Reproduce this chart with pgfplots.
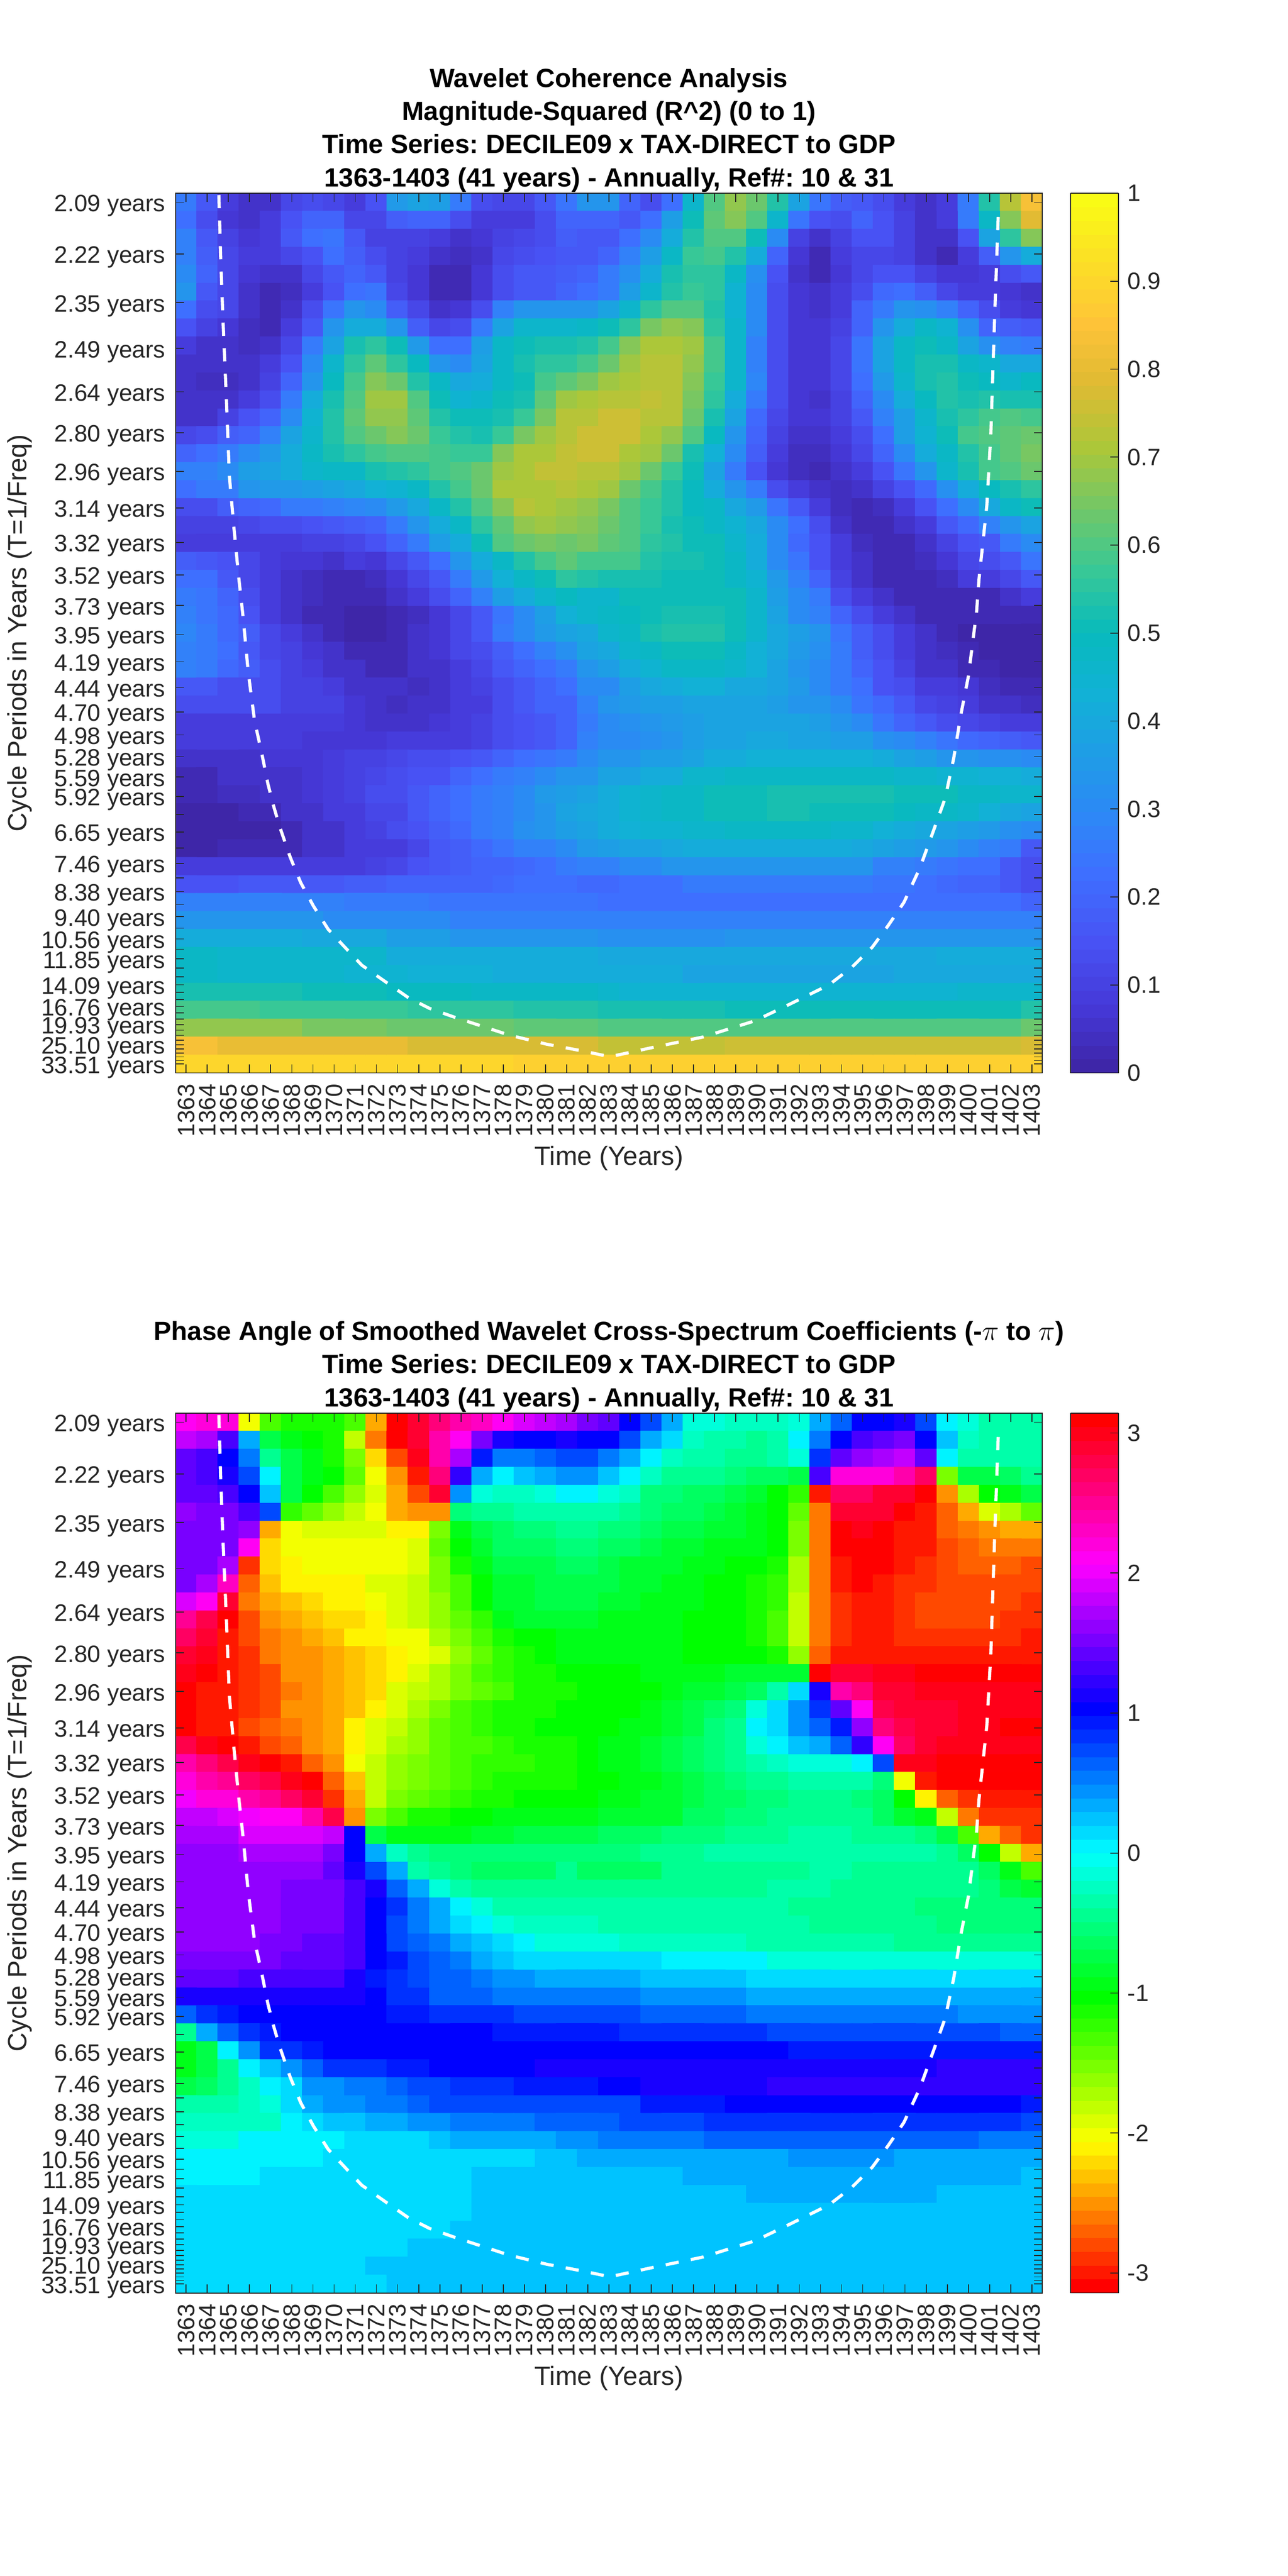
\documentclass[border=0pt]{standalone}
\usepackage{pgfplots}
\usepackage{fontspec}
\setmainfont{Liberation Sans}
\pgfplotsset{compat=1.18}
\frenchspacing
\definecolor{ink}{rgb}{0.15,0.15,0.15}
\pgfplotsset{
 colormap={parsrc}{rgb(0pt)=(0.2422,0.1504,0.6603) rgb(63pt)=(0.2706,0.2147,0.8364) rgb(143pt)=(0.2810,0.3228,0.9579) rgb(222pt)=(0.2440,0.4358,0.9988) rgb(286pt)=(0.1786,0.5289,0.9682) rgb(429pt)=(0.0689,0.6948,0.8394) rgb(500pt)=(0.03,0.73,0.74) rgb(571pt)=(0.2161,0.7843,0.5923) rgb(714pt)=(0.6720,0.7793,0.2227) rgb(790pt)=(0.88,0.73,0.2) rgb(857pt)=(0.9970,0.7659,0.2199) rgb(1000pt)=(0.9769,0.9839,0.0805)},
 colormap={par64}{samples of colormap=(64 of parsrc)},
 colormap={hsvsrc}{rgb(0pt)=(1,0,0) rgb(1pt)=(1,1,0) rgb(2pt)=(0,1,0) rgb(3pt)=(0,1,1) rgb(4pt)=(0,0,1) rgb(5pt)=(1,0,1) rgb(6pt)=(1,0,0)},
 colormap={hsv64}{samples of colormap=(64 of hsvsrc)},
 wave/.style={
  scale only axis, width=526pt, height=533.75pt, anchor=south west,
  xmin=1362.5, xmax=1403.5, ymin=-0.5, ymax=48.5, y dir=reverse,
  axis on top, tick align=inside, major tick length=5.25pt,
  tick style={draw=ink,line width=0.55pt}, axis line style={draw=ink,line width=0.6pt},
  colormap access=piecewise constant,
  xtick={1363,1364,1365,1366,1367,1368,1369,1370,1371,1372,1373,1374,1375,1376,1377,1378,1379,1380,1381,1382,1383,1384,1385,1386,1387,1388,1389,1390,1391,1392,1393,1394,1395,1396,1397,1398,1399,1400,1401,1402,1403},
  xticklabels={1363,1364,1365,1366,1367,1368,1369,1370,1371,1372,1373,1374,1375,1376,1377,1378,1379,1380,1381,1382,1383,1384,1385,1386,1387,1388,1389,1390,1391,1392,1393,1394,1395,1396,1397,1398,1399,1400,1401,1402,1403},
  ytick={0,2.874,5.586,8.146,10.563,12.844,14.996,17.028,18.946,20.756,22.465,24.078,25.6,27.037,28.393,29.673,30.881,32.022,33.098,34.114,35.073,35.978,36.833,37.639,38.4,39.118,39.797,40.437,41.04,41.611,42.149,42.657,43.137,43.589,44.016,44.42,44.8,45.159,45.498,45.818,46.12,46.406,46.675,46.928,47.168,47.394,47.608,47.81,48},
  yticklabels={2.09 years,2.22 years,2.35 years,2.49 years,2.64 years,2.80 years,2.96 years,3.14 years,3.32 years,3.52 years,3.73 years,3.95 years,4.19 years,4.44 years,4.70 years,4.98 years,5.28 years,5.59 years,5.92 years,{},6.65 years,{},7.46 years,{},8.38 years,{},9.40 years,{},10.56 years,{},11.85 years,{},{},14.09 years,{},{},16.76 years,{},{},19.93 years,{},{},{},25.10 years,{},{},{},{},33.51 years},
  ticklabel style={font=\fontsize{14.4}{14.4}\selectfont,text=ink},
  xticklabel style={yshift=-6.5pt,rotate=90,anchor=east,inner sep=0pt},
  yticklabel style={anchor=east,inner sep=0pt,xshift=-6pt,yshift=-2pt,text height=0.72em,text depth=0pt},
  xlabel={Time (Years)}, ylabel={Cycle Periods in Years (T=1/Freq)},
  every axis x label/.style={at={(axis description cs:0.5,0)},anchor=center,yshift=-51.75pt,font=\fontsize{16}{16}\selectfont,text=ink},
  every axis y label/.style={at={(axis description cs:0,0.5)},anchor=center,xshift=-94.5pt,rotate=90,font=\fontsize{16}{16}\selectfont,text=ink},
  title style={font=\bfseries\fontsize{16}{20.1}\selectfont,align=center,at={(axis description cs:0.5,1)},anchor=south,inner sep=0pt,yshift=-5.5pt},
 },
 wcb/.style={
  colorbar sampled,
  colorbar style={samples=65,at={(parent axis.north east)},anchor=north west,xshift=8.5pt,width=29pt,height=533.75pt,
   ytick pos=right,yticklabel pos=right,tick align=inside,major tick length=5pt,
   tick style={draw=ink,line width=0.55pt},axis line style={draw=ink,line width=0.6pt},
   yticklabel style={font=\fontsize{14.4}{14.4}\selectfont,text=ink,inner sep=0pt,xshift=5.5pt,anchor=west},
   #1},
 },
 coi/.style={white,line width=1.9pt,dash pattern=on 8pt off 7.5pt},
}
\begin{document}
\begin{tikzpicture}
\useasboundingbox (0,0) rectangle (781.25pt,1563pt);
\begin{axis}[wave,at={(106.5pt,912pt)},
 title={Wavelet Coherence Analysis\\Magnitude-Squared (R\textasciicircum 2) (0 to 1)\\Time Series: DECILE09 x TAX-DIRECT to GDP\\1363-1403 (41 years) - Annually, Ref\#: 10 \& 31},
 colormap name=par64, point meta min=0, point meta max=1,
 wcb={ytick={0,0.1,0.2,0.3,0.4,0.5,0.6,0.7,0.8,0.9,1},yticklabels={0,0.1,0.2,0.3,0.4,0.5,0.6,0.7,0.8,0.9,1}}]
\addplot[matrix plot*,mesh/cols=41,point meta=explicit] table[header=false,row sep=crcr,x expr={1363+mod(\coordindex,41)},y expr={floor((\coordindex+0.5)/41)},meta expr={\thisrowno{0}/100}] {
26\\17\\8\\5\\6\\12\\14\\11\\8\\15\\35\\38\\36\\26\\14\\11\\11\\16\\24\\33\\33\\19\\14\\22\\46\\60\\68\\64\\54\\38\\24\\18\\17\\14\\8\\5\\9\\25\\54\\73\\84\\
22\\13\\7\\5\\8\\15\\20\\19\\11\\11\\18\\20\\19\\13\\8\\8\\8\\13\\20\\20\\20\\17\\22\\36\\50\\61\\66\\60\\46\\24\\15\\14\\19\\15\\10\\5\\9\\25\\48\\66\\79\\
28\\16\\10\\7\\8\\16\\22\\24\\16\\10\\10\\10\\8\\6\\7\\10\\11\\13\\18\\17\\17\\22\\30\\42\\54\\60\\60\\50\\30\\10\\6\\10\\15\\15\\10\\5\\6\\15\\38\\56\\66\\
27\\18\\11\\8\\8\\11\\15\\22\\18\\13\\10\\8\\5\\4\\6\\11\\13\\15\\17\\17\\20\\28\\36\\47\\57\\58\\54\\42\\19\\7\\3\\8\\12\\12\\10\\6\\3\\8\\18\\33\\42\\
30\\19\\11\\7\\5\\5\\11\\17\\20\\16\\10\\7\\3\\3\\7\\13\\16\\17\\18\\20\\25\\32\\42\\52\\56\\56\\48\\32\\15\\6\\2\\7\\12\\15\\15\\10\\7\\7\\8\\14\\17\\
33\\17\\11\\6\\3\\4\\9\\15\\22\\24\\12\\7\\3\\3\\7\\13\\17\\17\\19\\23\\26\\36\\46\\54\\57\\55\\44\\30\\14\\7\\6\\9\\14\\21\\22\\18\\12\\9\\8\\7\\6\\
22\\14\\11\\6\\3\\5\\13\\24\\33\\30\\18\\11\\5\\7\\14\\27\\33\\33\\33\\33\\38\\46\\56\\60\\60\\54\\44\\30\\14\\7\\6\\9\\19\\26\\33\\32\\28\\19\\14\\9\\7\\
15\\10\\7\\4\\3\\8\\17\\33\\42\\42\\33\\18\\11\\14\\26\\39\\46\\46\\46\\47\\50\\55\\65\\68\\66\\56\\46\\30\\14\\7\\7\\10\\20\\33\\41\\47\\45\\32\\20\\18\\16\\
8\\6\\5\\4\\6\\12\\25\\38\\53\\55\\50\\35\\23\\23\\36\\48\\50\\52\\52\\54\\58\\66\\71\\71\\69\\58\\46\\28\\13\\7\\7\\11\\24\\38\\47\\50\\47\\39\\32\\28\\26\\
6\\5\\5\\5\\9\\15\\31\\46\\56\\62\\56\\49\\34\\31\\38\\47\\52\\55\\55\\59\\64\\70\\72\\72\\68\\58\\46\\28\\13\\7\\7\\11\\24\\38\\47\\52\\52\\48\\46\\40\\40\\
5\\4\\4\\6\\10\\19\\33\\49\\59\\67\\64\\54\\47\\40\\42\\47\\51\\58\\62\\65\\70\\71\\73\\72\\67\\57\\46\\29\\14\\7\\7\\11\\22\\35\\46\\52\\54\\51\\49\\46\\49\\
5\\5\\5\\8\\14\\26\\41\\52\\60\\69\\69\\60\\50\\44\\46\\50\\53\\62\\69\\71\\72\\73\\74\\72\\65\\55\\42\\25\\13\\7\\6\\10\\19\\30\\41\\49\\54\\53\\54\\53\\53\\
6\\6\\10\\15\\20\\31\\44\\54\\62\\68\\68\\62\\54\\50\\50\\52\\57\\65\\72\\73\\75\\75\\73\\72\\64\\52\\38\\21\\12\\7\\7\\10\\17\\27\\37\\46\\53\\56\\58\\60\\59\\
11\\14\\18\\20\\28\\38\\46\\54\\60\\64\\66\\63\\57\\54\\52\\57\\65\\69\\73\\75\\75\\75\\71\\68\\60\\49\\33\\19\\10\\5\\5\\8\\14\\23\\36\\44\\51\\58\\60\\62\\64\\
20\\22\\25\\31\\35\\41\\47\\53\\56\\58\\60\\60\\59\\57\\57\\66\\71\\71\\74\\75\\75\\71\\70\\63\\53\\43\\30\\18\\9\\4\\4\\7\\12\\19\\30\\41\\47\\54\\59\\62\\65\\
27\\28\\30\\36\\38\\42\\46\\47\\48\\52\\54\\55\\58\\60\\63\\70\\71\\74\\74\\73\\72\\69\\64\\57\\50\\38\\26\\15\\7\\4\\3\\5\\9\\15\\24\\34\\46\\53\\58\\60\\64\\
22\\26\\26\\33\\35\\35\\37\\39\\40\\43\\45\\48\\54\\58\\63\\71\\71\\71\\72\\71\\69\\63\\58\\54\\49\\41\\33\\26\\14\\8\\5\\4\\6\\10\\15\\21\\32\\42\\49\\53\\55\\
13\\14\\18\\20\\21\\25\\26\\28\\29\\30\\35\\40\\47\\54\\60\\67\\72\\71\\69\\68\\65\\60\\57\\54\\49\\47\\40\\35\\24\\17\\8\\4\\3\\4\\8\\15\\22\\31\\40\\47\\50\\
10\\10\\10\\11\\13\\13\\15\\16\\18\\20\\26\\33\\41\\48\\56\\62\\68\\70\\68\\66\\63\\60\\57\\53\\50\\47\\45\\40\\31\\22\\13\\6\\3\\3\\6\\9\\16\\21\\28\\34\\38\\
8\\8\\8\\9\\9\\9\\10\\10\\11\\15\\19\\26\\36\\42\\50\\60\\64\\65\\64\\65\\62\\60\\56\\54\\51\\50\\46\\41\\30\\21\\15\\8\\4\\3\\3\\5\\10\\15\\17\\26\\31\\
18\\16\\15\\12\\9\\7\\7\\6\\8\\7\\12\\16\\23\\33\\41\\47\\54\\58\\61\\58\\58\\58\\54\\52\\52\\50\\47\\41\\31\\24\\15\\8\\5\\3\\3\\4\\7\\11\\13\\16\\24\\
22\\22\\17\\12\\9\\6\\4\\3\\3\\4\\7\\11\\17\\26\\35\\43\\47\\50\\56\\54\\53\\53\\52\\51\\51\\50\\47\\45\\35\\28\\20\\10\\6\\3\\3\\3\\4\\8\\8\\12\\16\\
25\\24\\20\\13\\9\\6\\4\\3\\2\\3\\5\\8\\13\\20\\28\\36\\41\\46\\49\\46\\46\\50\\50\\50\\50\\50\\50\\46\\36\\30\\26\\14\\9\\6\\3\\2\\2\\3\\3\\6\\9\\
28\\24\\21\\15\\9\\5\\3\\2\\1\\1\\2\\4\\7\\11\\16\\24\\30\\36\\43\\46\\47\\49\\51\\52\\52\\52\\51\\46\\38\\30\\27\\19\\13\\9\\5\\3\\2\\2\\2\\2\\3\\
29\\25\\21\\18\\12\\8\\6\\3\\1\\1\\3\\6\\7\\12\\16\\26\\30\\35\\38\\40\\46\\47\\52\\54\\54\\54\\50\\46\\40\\36\\33\\24\\18\\14\\8\\5\\3\\1\\1\\1\\1\\
28\\26\\22\\17\\12\\10\\7\\5\\3\\3\\3\\5\\7\\11\\14\\18\\23\\28\\32\\38\\40\\46\\47\\50\\50\\50\\47\\43\\40\\35\\32\\26\\18\\14\\8\\6\\4\\2\\1\\1\\0\\
28\\26\\21\\18\\14\\10\\8\\6\\5\\3\\3\\5\\6\\9\\12\\16\\19\\23\\26\\34\\36\\41\\45\\47\\47\\47\\46\\43\\38\\34\\31\\26\\19\\15\\10\\6\\6\\3\\2\\1\\0\\
17\\16\\13\\14\\14\\10\\10\\8\\6\\5\\5\\4\\6\\8\\10\\13\\16\\19\\22\\30\\31\\37\\40\\41\\43\\43\\40\\40\\38\\35\\31\\26\\22\\15\\13\\9\\9\\7\\4\\2\\2\\
14\\14\\13\\14\\14\\10\\10\\10\\7\\6\\4\\5\\5\\8\\9\\13\\16\\19\\20\\27\\33\\35\\36\\37\\38\\39\\38\\38\\36\\34\\33\\30\\24\\21\\17\\12\\10\\8\\6\\5\\4\\
9\\9\\9\\9\\9\\9\\9\\8\\7\\5\\5\\6\\7\\9\\10\\13\\15\\17\\19\\26\\30\\32\\34\\35\\37\\38\\38\\38\\38\\38\\36\\33\\30\\24\\20\\16\\13\\12\\10\\9\\8\\
8\\8\\8\\8\\8\\8\\7\\7\\7\\7\\8\\8\\9\\9\\10\\13\\15\\17\\19\\27\\30\\30\\32\\33\\36\\38\\39\\40\\40\\39\\38\\36\\36\\32\\30\\28\\24\\21\\20\\18\\16\\
5\\6\\6\\6\\7\\7\\7\\8\\10\\10\\11\\13\\14\\15\\16\\20\\22\\24\\25\\30\\33\\33\\36\\37\\39\\41\\42\\43\\43\\43\\43\\43\\43\\41\\39\\37\\33\\33\\32\\32\\30\\
3\\3\\5\\5\\6\\6\\7\\8\\10\\11\\13\\15\\15\\20\\22\\25\\27\\30\\33\\33\\38\\39\\41\\41\\46\\46\\47\\47\\47\\47\\47\\47\\47\\47\\46\\46\\45\\45\\43\\43\\42\\
2\\2\\4\\4\\5\\6\\7\\9\\10\\14\\13\\17\\19\\22\\25\\28\\31\\35\\37\\39\\42\\44\\46\\47\\48\\50\\50\\50\\53\\53\\53\\53\\53\\53\\50\\50\\50\\48\\48\\46\\46\\
1\\1\\1\\2\\3\\5\\6\\8\\9\\11\\12\\17\\19\\22\\26\\28\\31\\34\\38\\40\\42\\44\\46\\47\\47\\50\\50\\50\\53\\53\\50\\50\\50\\50\\49\\47\\48\\46\\43\\40\\38\\
1\\1\\1\\1\\1\\2\\5\\6\\8\\10\\13\\15\\18\\21\\25\\28\\32\\34\\36\\39\\41\\43\\44\\44\\46\\46\\47\\47\\47\\47\\47\\46\\46\\43\\41\\40\\38\\37\\35\\32\\30\\
1\\1\\2\\2\\2\\3\\5\\5\\8\\8\\9\\12\\16\\18\\21\\24\\27\\28\\30\\35\\36\\38\\38\\40\\41\\41\\41\\41\\41\\41\\41\\41\\40\\38\\37\\35\\33\\30\\28\\25\\17\\
8\\8\\8\\8\\8\\8\\8\\8\\9\\10\\12\\15\\16\\18\\19\\20\\21\\23\\25\\27\\28\\30\\30\\33\\33\\33\\33\\33\\33\\33\\33\\33\\33\\28\\28\\25\\24\\23\\23\\17\\13\\
15\\15\\15\\16\\16\\17\\17\\17\\18\\18\\19\\19\\19\\20\\20\\21\\22\\23\\23\\21\\21\\22\\22\\23\\26\\26\\26\\26\\26\\26\\26\\26\\25\\24\\24\\22\\21\\20\\20\\17\\14\\
27\\27\\27\\27\\27\\27\\27\\27\\26\\26\\26\\26\\24\\24\\24\\24\\24\\24\\24\\24\\23\\23\\23\\23\\23\\23\\23\\23\\23\\23\\23\\23\\23\\23\\23\\23\\22\\22\\22\\22\\19\\
34\\34\\34\\34\\34\\34\\34\\30\\30\\30\\30\\30\\30\\28\\28\\28\\28\\28\\28\\28\\27\\27\\27\\27\\27\\27\\27\\27\\27\\27\\27\\27\\27\\27\\27\\27\\27\\27\\27\\27\\27\\
41\\41\\41\\41\\41\\41\\40\\40\\40\\40\\37\\37\\37\\33\\33\\33\\33\\33\\33\\33\\32\\32\\32\\32\\32\\32\\33\\33\\33\\33\\33\\33\\33\\33\\33\\33\\33\\33\\33\\33\\33\\
47\\47\\46\\46\\46\\46\\46\\46\\46\\46\\42\\42\\42\\42\\42\\42\\41\\41\\41\\41\\40\\40\\40\\40\\40\\40\\40\\40\\40\\40\\40\\40\\40\\40\\40\\40\\41\\41\\41\\41\\41\\
48\\48\\46\\46\\46\\46\\46\\46\\45\\45\\45\\43\\43\\43\\43\\41\\41\\41\\41\\41\\41\\41\\41\\41\\39\\39\\39\\39\\39\\39\\39\\39\\39\\39\\40\\40\\40\\40\\40\\40\\40\\
53\\53\\53\\52\\52\\52\\50\\50\\50\\50\\49\\49\\49\\49\\47\\47\\47\\47\\47\\47\\46\\44\\44\\44\\44\\44\\44\\44\\44\\44\\44\\44\\44\\44\\44\\44\\44\\46\\46\\46\\46\\
59\\59\\59\\59\\57\\57\\57\\57\\57\\57\\57\\55\\55\\55\\55\\55\\54\\54\\54\\54\\52\\52\\52\\52\\52\\52\\50\\50\\50\\50\\50\\50\\50\\50\\51\\51\\51\\51\\51\\51\\54\\
68\\68\\68\\68\\68\\68\\65\\65\\65\\65\\63\\63\\63\\63\\63\\63\\62\\62\\62\\62\\60\\60\\60\\60\\60\\60\\60\\60\\60\\60\\60\\60\\60\\60\\60\\60\\60\\60\\60\\60\\63\\
84\\83\\81\\81\\81\\80\\80\\80\\80\\80\\80\\78\\78\\78\\78\\77\\77\\77\\77\\77\\74\\74\\74\\74\\74\\74\\75\\75\\75\\75\\75\\75\\75\\75\\75\\75\\75\\75\\75\\75\\78\\
90\\90\\90\\90\\90\\90\\90\\90\\90\\90\\90\\90\\90\\90\\90\\90\\88\\88\\88\\88\\88\\88\\88\\88\\88\\88\\88\\88\\88\\88\\88\\88\\88\\88\\88\\88\\88\\88\\88\\88\\88\\
};
\addplot[coi] coordinates {(1364.55,-0.4)(1364.63,2.9)(1364.75,6.7)(1364.89,10.5)(1365.05,15.3)(1365.26,18.1)(1365.48,20.8)(1365.7,23.15)(1365.94,26.2)(1366.24,28.9)(1366.58,30.7)(1366.87,32.4)(1367.13,33.6)(1367.43,34.8)(1367.93,36.5)(1368.42,37.9)(1369.02,39.2)(1369.72,40.5)(1370.51,41.5)(1371.31,42.5)(1372.4,43.4)(1373.5,44.3)(1374.5,44.9)(1375.7,45.4)(1377,45.9)(1378.3,46.4)(1380.05,46.9)(1381.85,47.3)(1383.04,47.6)(1385,47.1)(1387.45,46.5)(1389.9,45.6)(1391.5,44.7)(1393.4,43.6)(1394.5,42.6)(1395.45,41.5)(1396.2,40.3)(1396.95,39)(1397.7,37.1)(1398.35,35)(1398.9,33.2)(1399.3,31)(1399.65,28.5)(1400,26.4)(1400.3,23.6)(1400.38,22.9)(1400.5,21)(1400.87,16.9)(1401.06,12.9)(1401.24,6.4)(1401.43,0.15)};
\end{axis}
\begin{axis}[wave,at={(106.5pt,171.75pt)},
 title={Phase Angle of Smoothed Wavelet Cross-Spectrum Coefficients (-$\pi$ to $\pi$)\\Time Series: DECILE09 x TAX-DIRECT to GDP\\1363-1403 (41 years) - Annually, Ref\#: 10 \& 31},
 colormap name=hsv64, point meta min=-3.14159, point meta max=3.14159,
 wcb={ytick={-3,-2,-1,0,1,2,3},yticklabels={-3,-2,-1,0,1,2,3}}]
\addplot[matrix plot*,mesh/cols=41,point meta=explicit] table[header=false,row sep=crcr,x expr={1363+mod(\coordindex,41)},y expr={floor((\coordindex+0.5)/41)},meta expr={\thisrowno{0}/10}] {
21\\22\\22\\-20\\-13\\-11\\-11\\-11\\-13\\-24\\-31\\29\\26\\24\\23\\21\\19\\18\\17\\15\\14\\10\\7\\3\\-1\\-1\\-2\\-2\\-2\\-1\\3\\6\\10\\10\\11\\7\\0\\-1\\-3\\-3\\-3\\
18\\17\\13\\3\\-7\\-9\\-10\\-11\\-18\\-26\\31\\29\\24\\21\\15\\11\\10\\10\\11\\10\\10\\7\\3\\1\\-2\\-3\\-3\\-4\\-3\\0\\5\\10\\13\\14\\15\\10\\2\\-2\\-3\\-3\\-3\\
14\\13\\10\\5\\-4\\-7\\-9\\-11\\-15\\-22\\-28\\30\\24\\17\\9\\5\\5\\6\\7\\7\\5\\3\\0\\-2\\-3\\-3\\-4\\-4\\-3\\-1\\8\\14\\16\\17\\18\\14\\0\\-3\\-3\\-3\\-3\\
14\\13\\11\\7\\0\\-7\\-9\\-10\\-14\\-20\\-25\\-30\\26\\12\\3\\0\\2\\3\\4\\4\\2\\0\\-2\\-4\\-4\\-4\\-5\\-6\\-6\\-7\\13\\22\\22\\22\\24\\27\\-15\\-7\\-7\\-6\\-4\\
14\\14\\13\\10\\2\\-7\\-10\\-13\\-16\\-19\\-24\\-28\\29\\4\\-1\\-2\\-2\\-1\\0\\0\\-1\\-2\\-5\\-5\\-6\\-6\\-7\\-8\\-10\\-12\\-30\\27\\27\\29\\29\\31\\-25\\-17\\-10\\-9\\-7\\
16\\15\\15\\13\\7\\-12\\-14\\-16\\-18\\-20\\-24\\-25\\-25\\-5\\-4\\-4\\-3\\-3\\-3\\-3\\-3\\-4\\-5\\-6\\-6\\-7\\-8\\-9\\-10\\-14\\-26\\29\\29\\29\\31\\-30\\-27\\-24\\-19\\-17\\-14\\
15\\15\\15\\16\\-24\\-20\\-19\\-19\\-19\\-19\\-21\\-21\\-15\\-9\\-7\\-6\\-5\\-5\\-4\\-4\\-5\\-5\\-6\\-7\\-7\\-8\\-8\\-9\\-10\\-15\\-26\\31\\30\\-31\\-30\\-30\\-27\\-26\\-25\\-24\\-24\\
15\\15\\15\\21\\-22\\-20\\-20\\-20\\-20\\-20\\-20\\-19\\-14\\-10\\-8\\-6\\-6\\-6\\-5\\-5\\-6\\-6\\-7\\-8\\-8\\-9\\-9\\-9\\-10\\-15\\-26\\-31\\-31\\-31\\-30\\-30\\-28\\-27\\-26\\-26\\-26\\
15\\15\\17\\-29\\-22\\-21\\-20\\-20\\-20\\-20\\-20\\-19\\-15\\-11\\-9\\-7\\-7\\-7\\-6\\-6\\-7\\-8\\-8\\-8\\-9\\-9\\-10\\-10\\-11\\-17\\-26\\-30\\-31\\-31\\-30\\-29\\-28\\-27\\-27\\-27\\-28\\
15\\17\\23\\-27\\-23\\-21\\-21\\-21\\-21\\-19\\-19\\-18\\-15\\-13\\-10\\-8\\-8\\-7\\-7\\-7\\-7\\-8\\-8\\-9\\-9\\-10\\-10\\-11\\-12\\-17\\-26\\-30\\-31\\-30\\-29\\-29\\-28\\-28\\-28\\-28\\-28\\
19\\21\\29\\-26\\-24\\-23\\-22\\-21\\-21\\-20\\-19\\-18\\-16\\-13\\-10\\-8\\-8\\-7\\-7\\-7\\-8\\-8\\-9\\-9\\-9\\-10\\-10\\-11\\-12\\-18\\-26\\-29\\-30\\-30\\-29\\-28\\-28\\-28\\-28\\-28\\-29\\
25\\28\\-31\\-28\\-25\\-24\\-23\\-22\\-22\\-21\\-19\\-18\\-16\\-14\\-12\\-9\\-8\\-8\\-8\\-8\\-9\\-9\\-9\\-9\\-10\\-10\\-10\\-11\\-13\\-18\\-26\\-29\\-30\\-30\\-29\\-28\\-28\\-28\\-28\\-29\\-29\\
27\\29\\-30\\-28\\-26\\-25\\-24\\-23\\-21\\-21\\-20\\-20\\-17\\-15\\-13\\-11\\-10\\-10\\-9\\-9\\-9\\-9\\-9\\-9\\-10\\-10\\-10\\-11\\-13\\-18\\-26\\-29\\-30\\-30\\-29\\-29\\-29\\-29\\-29\\-29\\-30\\
29\\30\\-30\\-29\\-26\\-25\\-25\\-24\\-23\\-22\\-21\\-20\\-19\\-16\\-14\\-12\\-11\\-10\\-9\\-9\\-9\\-9\\-9\\-9\\-10\\-10\\-10\\-10\\-11\\-16\\-27\\-30\\-30\\-30\\-30\\-30\\-30\\-30\\-30\\-30\\-30\\
30\\31\\-30\\-29\\-28\\-25\\-25\\-24\\-23\\-22\\-21\\-19\\-17\\-15\\-13\\-12\\-11\\-11\\-10\\-10\\-10\\-10\\-9\\-9\\-9\\-9\\-8\\-8\\-8\\-8\\31\\29\\29\\30\\30\\31\\31\\31\\31\\31\\31\\
-31\\-30\\-30\\-29\\-28\\-26\\-25\\-24\\-23\\-22\\-19\\-18\\-17\\-15\\-14\\-13\\-11\\-11\\-11\\-10\\-10\\-10\\-10\\-9\\-8\\-8\\-7\\-6\\-3\\1\\11\\24\\26\\29\\29\\30\\30\\30\\30\\30\\30\\
-31\\-30\\-30\\-29\\-28\\-25\\-25\\-24\\-23\\-21\\-19\\-17\\-15\\-13\\-12\\-11\\-11\\-11\\-10\\-10\\-10\\-10\\-9\\-8\\-7\\-6\\-5\\-1\\1\\4\\8\\14\\21\\28\\29\\29\\29\\30\\30\\30\\30\\
-31\\-30\\-30\\-28\\-27\\-26\\-25\\-24\\-21\\-19\\-18\\-16\\-14\\-13\\-12\\-11\\-11\\-10\\-10\\-10\\-10\\-9\\-9\\-8\\-7\\-5\\-4\\0\\1\\4\\6\\9\\16\\26\\28\\29\\29\\30\\30\\31\\31\\
28\\30\\31\\-30\\-28\\-27\\-25\\-24\\-21\\-19\\-17\\-16\\-14\\-13\\-13\\-12\\-11\\-11\\-11\\-10\\-9\\-9\\-8\\-7\\-6\\-5\\-4\\-1\\0\\2\\3\\6\\12\\21\\27\\29\\30\\30\\30\\30\\30\\
24\\26\\28\\30\\31\\-30\\-27\\-25\\-20\\-18\\-16\\-15\\-14\\-13\\-12\\-12\\-12\\-11\\-11\\-10\\-9\\-9\\-8\\-7\\-6\\-5\\-4\\-3\\-2\\-1\\-1\\-1\\0\\7\\30\\30\\31\\31\\31\\31\\31\\
22\\24\\25\\27\\28\\30\\-31\\-27\\-23\\-18\\-16\\-15\\-14\\-13\\-12\\-11\\-11\\-11\\-11\\-10\\-10\\-9\\-9\\-8\\-7\\-6\\-5\\-4\\-4\\-3\\-3\\-3\\-3\\-5\\-20\\-30\\-31\\-31\\-31\\-31\\-31\\
20\\22\\22\\24\\25\\27\\29\\-29\\-24\\-18\\-15\\-14\\-13\\-12\\-11\\-11\\-10\\-10\\-10\\-10\\-9\\-9\\-8\\-8\\-7\\-6\\-6\\-5\\-5\\-4\\-4\\-4\\-5\\-6\\-10\\-21\\-27\\-29\\-30\\-30\\-30\\
18\\18\\19\\20\\21\\21\\24\\28\\-25\\-15\\-13\\-11\\-11\\-10\\-10\\-9\\-9\\-9\\-9\\-9\\-8\\-8\\-8\\-8\\-6\\-6\\-5\\-5\\-4\\-4\\-4\\-4\\-4\\-6\\-8\\-9\\-18\\-26\\-29\\-29\\-29\\
17\\17\\17\\19\\19\\19\\19\\18\\10\\-7\\-9\\-9\\-9\\-9\\-8\\-8\\-7\\-7\\-7\\-7\\-6\\-6\\-6\\-5\\-5\\-5\\-4\\-4\\-4\\-3\\-3\\-3\\-4\\-4\\-4\\-5\\-7\\-13\\-24\\-27\\-29\\
16\\16\\16\\17\\17\\17\\17\\15\\10\\3\\-2\\-4\\-5\\-5\\-5\\-5\\-5\\-5\\-5\\-5\\-5\\-5\\-4\\-4\\-4\\-3\\-3\\-3\\-3\\-3\\-3\\-3\\-3\\-3\\-3\\-3\\-4\\-6\\-10\\-18\\-24\\
16\\16\\16\\16\\16\\16\\16\\14\\11\\7\\3\\-3\\-4\\-5\\-6\\-6\\-6\\-6\\-4\\-6\\-6\\-6\\-6\\-4\\-4\\-4\\-4\\-4\\-4\\-4\\-3\\-3\\-4\\-4\\-4\\-4\\-4\\-4\\-6\\-9\\-13\\
16\\16\\16\\16\\16\\15\\15\\15\\13\\11\\6\\3\\-1\\-3\\-4\\-4\\-4\\-4\\-4\\-4\\-4\\-4\\-4\\-4\\-4\\-4\\-4\\-4\\-3\\-3\\-3\\-4\\-4\\-4\\-4\\-4\\-4\\-4\\-5\\-7\\-8\\
16\\16\\16\\16\\16\\15\\15\\15\\13\\10\\8\\5\\3\\0\\-1\\-3\\-3\\-3\\-3\\-3\\-3\\-3\\-3\\-3\\-3\\-3\\-3\\-3\\-3\\-4\\-4\\-4\\-4\\-4\\-4\\-5\\-5\\-5\\-5\\-5\\-5\\
16\\16\\16\\16\\16\\15\\15\\15\\13\\10\\7\\5\\3\\1\\0\\-1\\-2\\-2\\-2\\-2\\-3\\-3\\-3\\-3\\-3\\-3\\-3\\-3\\-3\\-3\\-4\\-4\\-4\\-4\\-4\\-4\\-5\\-5\\-5\\-5\\-5\\
16\\16\\16\\16\\15\\15\\14\\14\\13\\10\\7\\6\\5\\3\\2\\1\\0\\-1\\-1\\-1\\-1\\-2\\-2\\-2\\-2\\-2\\-2\\-3\\-3\\-3\\-3\\-3\\-3\\-3\\-4\\-4\\-4\\-4\\-4\\-4\\-4\\
15\\15\\15\\15\\15\\14\\14\\14\\13\\10\\9\\7\\6\\5\\3\\2\\1\\1\\1\\1\\1\\1\\1\\0\\0\\0\\0\\0\\-1\\-1\\-1\\-1\\-1\\-1\\-1\\-1\\-1\\-1\\-1\\-1\\-1\\
14\\14\\14\\13\\13\\13\\13\\13\\11\\9\\8\\7\\6\\6\\5\\4\\4\\3\\3\\3\\3\\3\\2\\2\\2\\2\\2\\1\\1\\1\\1\\1\\1\\1\\1\\1\\1\\1\\1\\1\\1\\
11\\11\\11\\11\\11\\11\\11\\11\\11\\10\\8\\8\\6\\6\\6\\5\\5\\5\\5\\5\\5\\5\\4\\4\\4\\4\\4\\3\\3\\3\\3\\3\\3\\3\\3\\3\\3\\3\\3\\3\\3\\
6\\8\\9\\10\\10\\10\\10\\10\\10\\10\\9\\9\\8\\8\\8\\8\\7\\7\\7\\7\\7\\7\\6\\6\\6\\6\\6\\5\\5\\5\\5\\5\\5\\5\\5\\5\\5\\4\\4\\4\\4\\
-4\\3\\6\\8\\9\\10\\10\\10\\10\\10\\10\\10\\10\\10\\10\\9\\9\\9\\9\\9\\9\\8\\8\\8\\8\\8\\8\\8\\7\\7\\7\\7\\7\\7\\7\\7\\7\\7\\7\\6\\6\\
-9\\-7\\0\\4\\8\\8\\9\\10\\10\\10\\10\\10\\10\\10\\10\\10\\10\\10\\10\\10\\10\\10\\10\\10\\10\\10\\10\\10\\10\\9\\9\\9\\9\\9\\9\\9\\9\\9\\9\\9\\9\\
-9\\-7\\-4\\0\\2\\4\\6\\8\\8\\8\\9\\9\\10\\10\\10\\10\\10\\11\\11\\11\\11\\11\\11\\11\\11\\11\\11\\11\\11\\11\\11\\11\\11\\11\\11\\11\\12\\12\\12\\12\\12\\
-7\\-6\\-4\\-2\\0\\1\\4\\4\\5\\5\\6\\7\\7\\8\\8\\8\\9\\9\\9\\9\\10\\10\\11\\11\\11\\11\\11\\11\\12\\12\\12\\12\\12\\12\\12\\12\\12\\12\\12\\12\\12\\
-3\\-3\\-3\\-2\\-1\\1\\3\\4\\4\\5\\5\\6\\7\\7\\7\\7\\7\\7\\7\\7\\7\\7\\9\\9\\9\\9\\10\\10\\10\\10\\10\\10\\10\\10\\10\\10\\10\\10\\10\\10\\9\\
-2\\-2\\-2\\-2\\-2\\0\\1\\2\\2\\3\\3\\4\\4\\5\\5\\5\\5\\6\\6\\6\\6\\7\\7\\7\\7\\8\\8\\8\\8\\8\\8\\8\\8\\8\\8\\8\\8\\8\\8\\8\\7\\
-1\\-1\\-1\\0\\0\\0\\0\\0\\1\\1\\1\\1\\2\\3\\3\\3\\3\\3\\4\\4\\5\\5\\5\\5\\5\\6\\6\\6\\6\\6\\6\\6\\6\\6\\6\\6\\6\\6\\5\\5\\5\\
0\\0\\0\\0\\0\\0\\0\\1\\1\\1\\1\\1\\1\\1\\1\\1\\1\\2\\2\\3\\3\\3\\3\\3\\3\\3\\3\\3\\3\\4\\4\\4\\4\\4\\3\\3\\3\\3\\3\\3\\3\\
0\\0\\0\\0\\1\\1\\1\\1\\1\\1\\1\\1\\1\\1\\2\\2\\2\\2\\2\\2\\2\\2\\2\\2\\3\\3\\3\\3\\3\\3\\3\\3\\3\\3\\3\\3\\3\\3\\3\\3\\2\\
1\\1\\1\\1\\1\\1\\1\\1\\1\\1\\1\\1\\1\\1\\2\\2\\2\\2\\2\\2\\2\\2\\2\\2\\2\\2\\2\\3\\3\\3\\3\\3\\3\\3\\3\\3\\2\\2\\2\\2\\2\\
1\\1\\1\\1\\1\\1\\1\\1\\1\\1\\1\\1\\1\\1\\2\\2\\2\\2\\2\\2\\2\\2\\2\\2\\2\\2\\2\\2\\2\\2\\2\\2\\2\\2\\2\\2\\2\\2\\2\\2\\2\\
1\\1\\1\\1\\1\\1\\1\\1\\1\\1\\1\\1\\1\\2\\2\\2\\2\\2\\2\\2\\2\\2\\2\\2\\2\\2\\2\\2\\2\\2\\2\\2\\2\\2\\2\\2\\2\\2\\2\\2\\2\\
1\\1\\1\\1\\1\\1\\1\\1\\1\\1\\1\\2\\2\\2\\2\\2\\2\\2\\2\\2\\2\\2\\2\\2\\2\\2\\2\\2\\2\\2\\2\\2\\2\\2\\2\\2\\2\\2\\2\\2\\2\\
1\\1\\1\\1\\1\\1\\1\\1\\1\\2\\2\\2\\2\\2\\2\\2\\2\\2\\2\\2\\2\\2\\2\\2\\2\\2\\2\\2\\2\\2\\2\\2\\2\\2\\2\\2\\2\\2\\2\\2\\2\\
1\\1\\1\\1\\1\\1\\1\\1\\1\\1\\2\\2\\2\\2\\2\\2\\2\\2\\2\\2\\2\\2\\2\\2\\2\\2\\2\\2\\2\\2\\2\\2\\2\\2\\2\\2\\2\\2\\2\\2\\2\\
};
\addplot[coi] coordinates {(1364.55,-0.4)(1364.63,2.9)(1364.75,6.7)(1364.89,10.5)(1365.05,15.3)(1365.26,18.1)(1365.48,20.8)(1365.7,23.15)(1365.94,26.2)(1366.24,28.9)(1366.58,30.7)(1366.87,32.4)(1367.13,33.6)(1367.43,34.8)(1367.93,36.5)(1368.42,37.9)(1369.02,39.2)(1369.72,40.5)(1370.51,41.5)(1371.31,42.5)(1372.4,43.4)(1373.5,44.3)(1374.5,44.9)(1375.7,45.4)(1377,45.9)(1378.3,46.4)(1380.05,46.9)(1381.85,47.3)(1383.04,47.6)(1385,47.1)(1387.45,46.5)(1389.9,45.6)(1391.5,44.7)(1393.4,43.6)(1394.5,42.6)(1395.45,41.5)(1396.2,40.3)(1396.95,39)(1397.7,37.1)(1398.35,35)(1398.9,33.2)(1399.3,31)(1399.65,28.5)(1400,26.4)(1400.3,23.6)(1400.38,22.9)(1400.5,21)(1400.87,16.9)(1401.06,12.9)(1401.24,6.4)(1401.43,0.15)};
\end{axis}
\end{tikzpicture}
\end{document}
